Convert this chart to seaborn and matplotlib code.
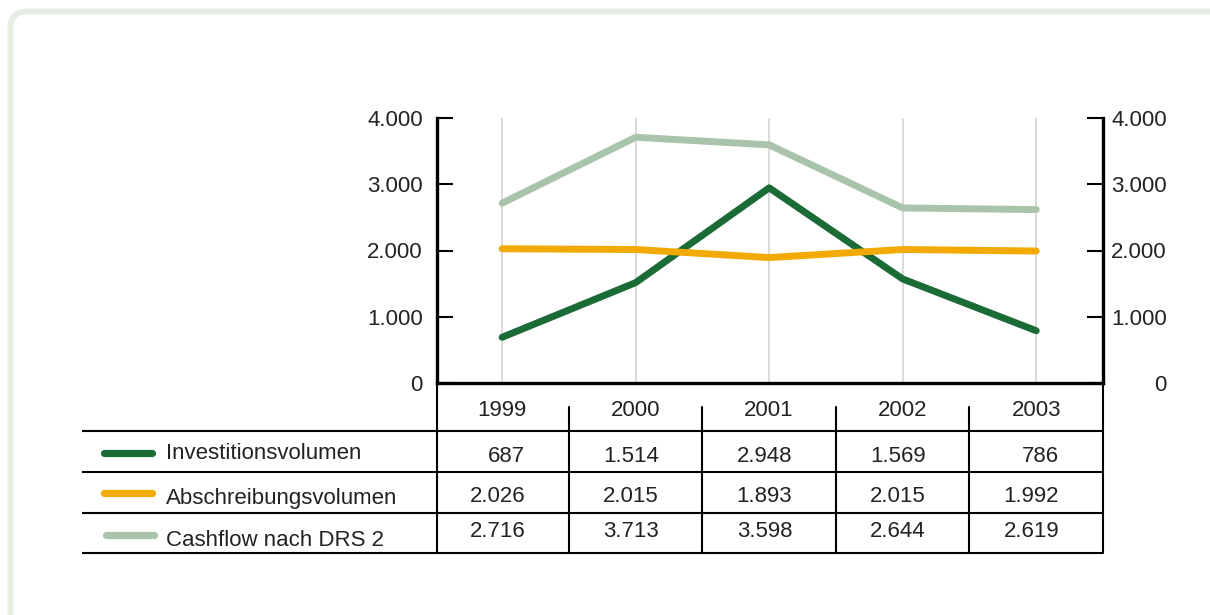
import matplotlib
matplotlib.use("Agg")
import matplotlib.pyplot as plt
from matplotlib.patches import FancyBboxPatch
from matplotlib.ticker import FuncFormatter, FixedLocator
from matplotlib.transforms import IdentityTransform
import seaborn as sns
import pandas as pd

years = ["1999", "2000", "2001", "2002", "2003"]
series = ["Investitionsvolumen", "Abschreibungsvolumen", "Cashflow nach DRS 2"]
investition = [687, 1514, 2948, 1569, 786]
abschreibung = [2026, 2015, 1893, 2015, 1992]
cashflow = [2716, 3713, 3598, 2644, 2619]
colors = ["#1a6b36", "#f2aa00", "#a9c4aa"]
yticks = [0, 1000, 2000, 3000, 4000]

values = [investition, abschreibung, cashflow]
df = pd.DataFrame({
    "pos": [i for _ in series for i in range(len(years))],
    "value": [v for vals in values for v in vals],
    "series": [s for s in series for _ in years],
})

sns.set_theme(style="white")
plt.rcParams["font.family"] = ["Liberation Sans", "DejaVu Sans"]
FS = 16

W, H = 1210, 615
fig = plt.figure(figsize=(W / 100, H / 100), dpi=100)
fig.patch.set_facecolor("white")

def fx(px):
    return px / W

def fy(py):
    return 1 - py / H

# frame
frame = FancyBboxPatch((10.5, -40), 1300, H - 11.5 + 40,
                       boxstyle="round,pad=0,rounding_size=16",
                       transform=IdentityTransform(), facecolor="none",
                       edgecolor="#e6ede3", linewidth=4.2, zorder=-5)
fig.patches.append(frame)

L, R, T, B = 436.7, 1103, 118.3, 382.7
ax = fig.add_axes([fx(L), fy(B), fx(R) - fx(L), fy(T) - fy(B)])
ax.set_facecolor("none")
sns.lineplot(data=df, x="pos", y="value", hue="series", palette=dict(zip(series, colors)),
             linewidth=5.0, ax=ax, legend=False, sort=False)
for ln in ax.lines:
    ln.set_solid_capstyle("round")
    ln.set_solid_joinstyle("round")
    ln.set_zorder(3)

xmin, xmax = -0.49, 4.5
ax.set_xlim(xmin, xmax)
ax.set_ylim(0, 4000)
ax.set_xlabel("")
ax.set_ylabel("")
for x in range(len(years)):
    ax.axvline(x, color="#d9d9d9", linewidth=1.4, zorder=1)
ax.set_xticks([])
fmt = FuncFormatter(lambda v, p: f"{int(v):,}".replace(",", "."))
ax.yaxis.set_major_locator(FixedLocator(yticks))
ax.yaxis.set_major_formatter(fmt)
ax.tick_params(axis="y", direction="in", length=11.3, width=1.5, color="black",
               pad=10, labelsize=FS, labelcolor="#222222", left=True)
for s in ["left", "bottom"]:
    ax.spines[s].set_linewidth(2.4)
    ax.spines[s].set_color("black")
ax.spines["top"].set_visible(False)
ax.spines["right"].set_visible(False)

ax2 = ax.twinx()
ax2.set_ylim(0, 4000)
ax2.yaxis.set_major_locator(FixedLocator(yticks))
ax2.yaxis.set_major_formatter(fmt)
ax2.tick_params(axis="y", direction="in", length=11.3, width=1.5, color="black",
                pad=46, labelsize=FS, labelcolor="#222222", right=True)
for lab in ax2.get_yticklabels():
    lab.set_horizontalalignment("right")
for s in ["left", "top", "bottom"]:
    ax2.spines[s].set_visible(False)
ax2.spines["right"].set_linewidth(2.4)
ax2.spines["right"].set_color("black")

# table axes (x in same index units, y in pixel rows)
TL, TB = 82, 553.3
scale = (R - L) / (xmax - xmin)
txmin = xmin - (L - TL) / scale
axt = fig.add_axes([fx(TL), fy(TB), fx(R) - fx(TL), fy(B) - fy(TB)])
axt.set_xlim(txmin, xmax)
axt.set_ylim(TB, B)
axt.axis("off")

lw_t = 1.5
row_lines = [431, 471.7, 513, 553.3]
for yl in row_lines:
    axt.plot([txmin, xmax], [yl, yl], color="black", lw=lw_t, clip_on=False,
             solid_capstyle="butt")
axt.plot([xmin, xmin], [B, TB], color="black", lw=lw_t, clip_on=False)
axt.plot([xmax, xmax], [B, TB], color="black", lw=lw_t, clip_on=False)
for k in range(len(years) - 1):
    xb = k + 0.5
    axt.plot([xb, xb], [406.7, 431], color="black", lw=lw_t, clip_on=False)
    axt.plot([xb, xb], [431, TB], color="black", lw=lw_t, clip_on=False)

for i, yr in enumerate(years):
    axt.text(i, 416, yr, ha="center", va="baseline", fontsize=FS, color="#222222")

row_baselines = [462.3, 501.7, 536.7]
label_baselines = [459, 504, 545.7]
leg_y = [453, 493, 535]
leg_x0 = [104, 104, 106]
off = 23 / scale
for r, (name, vals, col) in enumerate(zip(series, values, colors)):
    for i, v in enumerate(vals):
        axt.text(i + off, row_baselines[r], f"{v:,}".replace(",", "."), ha="right",
                 va="baseline", fontsize=FS, color="#222222")
    x0 = txmin + (leg_x0[r] - TL) / scale
    x1 = txmin + (leg_x0[r] + 48 - TL) / scale
    axt.plot([x0, x1], [leg_y[r], leg_y[r]], color=col, lw=5.2,
             solid_capstyle="round", clip_on=False)
    lx = txmin + (166 - TL) / scale
    axt.text(lx, label_baselines[r], name, ha="left", va="baseline",
             fontsize=FS, color="#222222")

fig.savefig("out.png", dpi=100)
